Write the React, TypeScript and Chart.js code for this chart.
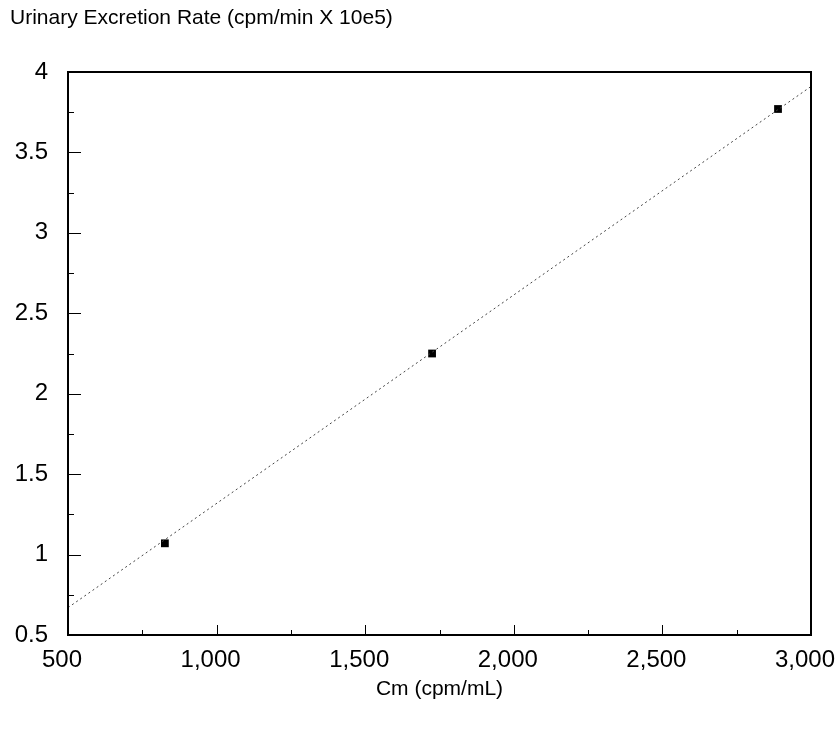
import React, { useEffect, useRef } from "react";
import { Chart, registerables } from "chart.js";

Chart.register(...registerables);

const chartTitle = "Urinary Excretion Rate (cpm/min X 10e5)";
const xAxisTitle = "Cm (cpm/mL)";

const measuredCm = [826, 1725, 2889];
const measuredRate = [1.07, 2.25, 3.77];

const fitCm = [500, 3000];
const fitRate = [0.67, 3.91];

const xMin = 500;
const xMax = 3000;
const xMajorStep = 500;
const xMinorStep = 250;
const yMin = 0.5;
const yMax = 4;
const yMajorStep = 0.5;
const yMinorStep = 0.25;

const FONT = "'Liberation Sans', Arial, sans-serif";

const frameTicks = {
  id: "frameTicks",
  afterDatasetsDraw(chart: any) {
    const { ctx, chartArea } = chart;
    const xs = chart.scales.x;
    const ys = chart.scales.y;
    ctx.save();
    ctx.strokeStyle = "#000";
    ctx.lineWidth = 1;
    for (let v = xMin; v <= xMax + 1e-6; v += xMinorStep) {
      const px = Math.round(xs.getPixelForValue(v)) + 0.5;
      const major = Math.abs(v / xMajorStep - Math.round(v / xMajorStep)) < 1e-6;
      const len = major ? 10 : 5;
      ctx.beginPath();
      ctx.moveTo(px, chartArea.bottom);
      ctx.lineTo(px, chartArea.bottom - len);
      ctx.stroke();
    }
    for (let v = yMin; v <= yMax + 1e-6; v += yMinorStep) {
      const py = Math.round(ys.getPixelForValue(v)) + 0.5;
      const major = Math.abs(v / yMajorStep - Math.round(v / yMajorStep)) < 1e-6;
      const len = major ? 13 : 6;
      ctx.beginPath();
      ctx.moveTo(chartArea.left, py);
      ctx.lineTo(chartArea.left + len, py);
      ctx.stroke();
    }
    ctx.lineWidth = 2;
    ctx.strokeRect(
      chartArea.left,
      chartArea.top,
      chartArea.right - chartArea.left,
      chartArea.bottom - chartArea.top
    );
    ctx.restore();
  },
};

export default function App() {
  const canvasRef = useRef<HTMLCanvasElement | null>(null);

  useEffect(() => {
    if (!canvasRef.current) return;
    const chart = new Chart(canvasRef.current, {
      type: "scatter",
      data: {
        datasets: [
          {
            type: "line",
            label: "fit",
            data: fitCm.map((x, i) => ({ x, y: fitRate[i] })),
            borderColor: "#444",
            borderWidth: 1,
            borderDash: [2, 3],
            pointRadius: 0,
            fill: false,
          } as any,
          {
            type: "scatter",
            label: "measured",
            data: measuredCm.map((x, i) => ({ x, y: measuredRate[i] })),
            pointStyle: "rect",
            pointRadius: 5.5,
            backgroundColor: "#000",
            borderColor: "#000",
            borderWidth: 0,
          },
        ],
      },
      options: {
        animation: false,
        responsive: false,
        maintainAspectRatio: false,
        devicePixelRatio: 1,
        layout: { padding: { left: 10, right: 27, top: 0, bottom: 0 } },
        plugins: {
          legend: { display: false },
          tooltip: { enabled: false },
          title: {
            display: true,
            text: chartTitle,
            align: "start",
            color: "#000",
            font: { family: FONT, size: 21, weight: "normal", lineHeight: 1.2 },
            padding: { top: 6, bottom: 40.8 },
          },
        },
        scales: {
          x: {
            type: "linear",
            min: xMin,
            max: xMax,
            grid: { display: false, drawTicks: false },
            border: { display: false },
            ticks: {
              stepSize: xMajorStep,
              padding: 11,
              labelOffset: -6,
              color: "#000",
              font: { family: FONT, size: 24 },
              maxRotation: 0,
              callback: (v: any) => Number(v).toLocaleString("en-US"),
            },
            title: {
              display: true,
              text: xAxisTitle,
              color: "#000",
              font: { family: FONT, size: 21, lineHeight: 1.2 },
              padding: { top: 0, bottom: 27 },
            },
            afterFit: (scale: any) => {
              scale.height = 94;
              scale.paddingLeft = 0;
              scale.paddingRight = 0;
            },
          },
          y: {
            type: "linear",
            min: yMin,
            max: yMax,
            grid: { display: false, drawTicks: false },
            border: { display: false },
            ticks: {
              stepSize: yMajorStep,
              padding: 20,
              color: "#000",
              font: { family: FONT, size: 24 },
              callback: (v: any) => String(Number(v)),
            },
            afterFit: (scale: any) => {
              scale.width = 58;
              scale.paddingTop = 0;
              scale.paddingBottom = 0;
            },
          },
        },
      },
      plugins: [frameTicks],
    });
    return () => chart.destroy();
  }, []);

  return (
    <div style={{ position: "fixed", left: 0, top: 0, width: 838, height: 729, background: "#fff" }}>
      <canvas ref={canvasRef} width={838} height={729} style={{ width: 838, height: 729 }} />
    </div>
  );
}
